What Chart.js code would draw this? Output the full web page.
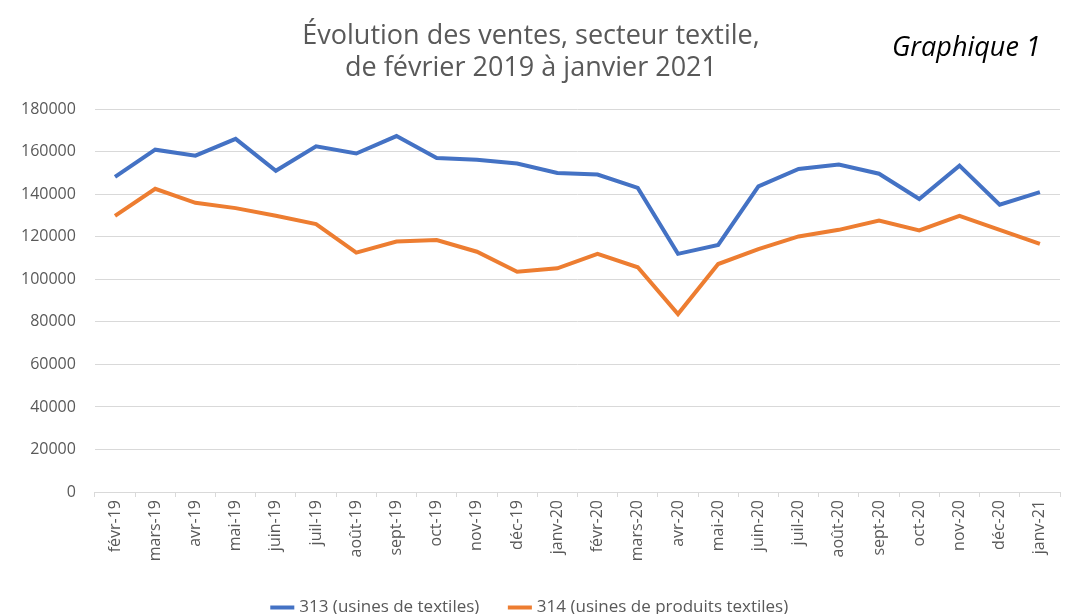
<!DOCTYPE html>
<html>
<head>
<meta charset="utf-8">
<script src="https://cdn.jsdelivr.net/npm/chart.js@4.4.1/dist/chart.umd.min.js"></script>
<style>
  html, body { margin: 0; padding: 0; background: #fff; }
  #wrap { position: relative; width: 1068px; height: 614px; }
  #note {
    position: absolute; left: 892px; top: 32px;
    font-family: "Open Sans", sans-serif; font-style: italic;
    font-size: 27px; line-height: 1; color: #000;
  }
</style>
</head>
<body>
<div id="wrap">
  <canvas id="graph" width="1068" height="614"></canvas>
  <div id="note">Graphique 1</div>
</div>
<script>
const mois = [
  "févr-19", "mars-19", "avr-19", "mai-19", "juin-19", "juil-19", "août-19", "sept-19",
  "oct-19", "nov-19", "déc-19", "janv-20", "févr-20", "mars-20", "avr-20", "mai-20",
  "juin-20", "juil-20", "août-20", "sept-20", "oct-20", "nov-20", "déc-20", "janv-21",
];

const usinesTextiles = [
  148200, 161000, 158200, 166100, 151100, 162600, 159200, 167400,
  157100, 156300, 154500, 150000, 149300, 143000, 112000, 116200,
  143700, 151900, 154000, 149700, 137800, 153500, 135100, 141000,
];

const usinesProduits = [
  129900, 142600, 136000, 133500, 129900, 126000, 112600, 117800,
  118500, 113000, 103600, 105200, 112000, 105700, 83700, 107200,
  114200, 120200, 123300, 127700, 123000, 129900, 123300, 116700,
];

const titre = ["Évolution des ventes, secteur textile,", "de février 2019 à janvier 2021"];
const grisTexte = "#595959";
const grisGrille = "#d9d9d9";

const ctx = document.getElementById("graph").getContext("2d");

new Chart(ctx, {
  type: "line",
  data: {
    labels: mois,
    datasets: [
      {
        label: "313 (usines de textiles)",
        data: usinesTextiles,
        borderColor: "#4472c4",
        backgroundColor: "#4472c4",
        borderWidth: 4,
        pointRadius: 0,
        tension: 0,
      },
      {
        label: "314 (usines de produits textiles)",
        data: usinesProduits,
        borderColor: "#ed7d31",
        backgroundColor: "#ed7d31",
        borderWidth: 4,
        pointRadius: 0,
        tension: 0,
      },
    ],
  },
  options: {
    responsive: false,
    animation: false,
    layout: { padding: { left: 2, right: 8, top: 20, bottom: -12 } },
    plugins: {
      title: {
        display: true,
        text: titre,
        color: grisTexte,
        font: { family: "Open Sans", size: 27, weight: "normal", lineHeight: 1.19 },
        padding: { top: 0, bottom: 25 },
      },
      legend: {
        position: "bottom",
        labels: {
          usePointStyle: true,
          pointStyle: "line",
          boxWidth: 46,
          color: grisTexte,
          font: { family: "Open Sans", size: 17 },
          padding: 32,
        },
      },
      tooltip: { enabled: false },
    },
    scales: {
      x: {
        offset: true,
        grid: {
          offset: true,
          drawOnChartArea: false,
          color: grisGrille,
          tickLength: 5,
        },
        border: { color: grisGrille },
        ticks: {
          color: grisTexte,
          font: { family: "Open Sans", size: 16 },
          maxRotation: 90,
          minRotation: 90,
          autoSkip: false,
          padding: 3,
        },
        afterFit: (scale) => { scale.height = 75; },
      },
      y: {
        min: 0,
        max: 180000,
        ticks: {
          stepSize: 20000,
          color: grisTexte,
          font: { family: "Open Sans", size: 16 },
          padding: 19,
          callback: (v) => String(v),
        },
        grid: { color: grisGrille, drawTicks: false },
        border: { display: false },
      },
    },
  },
});
</script>
</body>
</html>
